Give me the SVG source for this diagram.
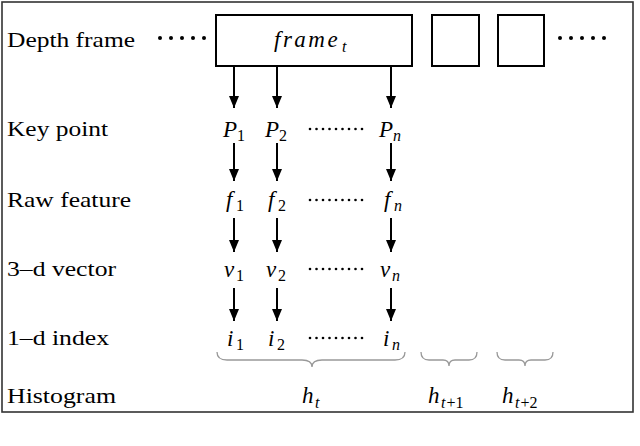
<svg xmlns="http://www.w3.org/2000/svg" width="640" height="446" viewBox="0 0 640 446">
<defs>
<marker id="ah" viewBox="0 0 12 10" refX="12" refY="5" markerWidth="12" markerHeight="10" markerUnits="userSpaceOnUse" orient="auto">
<path d="M0,0 L12,5 L0,10 Z" fill="#000"/>
</marker>
</defs>
<style>
text{font-family:"Liberation Serif","Times New Roman",serif;fill:#000}
.lbl{font-size:22px}
.m{font-size:23px;font-style:italic}
.s{font-size:16px;font-style:normal}
.si{font-size:16px;font-style:italic}
.box{fill:#fff;stroke:#000;stroke-width:2}
.arr{stroke:#000;stroke-width:2;fill:none}
.brace{stroke:#999;stroke-width:1.3;fill:none}
.bd{fill:#000}
.sd{fill:#000}
</style>
<rect x="0" y="0" width="640" height="446" fill="#fff"/>
<rect x="2" y="2" width="631" height="410" fill="none" stroke="#333" stroke-width="1.6"/>

<g id="labels">
<text class="lbl" x="7" y="47" textLength="128" lengthAdjust="spacingAndGlyphs">Depth frame</text>
<text class="lbl" x="7" y="136" textLength="101" lengthAdjust="spacingAndGlyphs">Key point</text>
<text class="lbl" x="7" y="207" textLength="124" lengthAdjust="spacingAndGlyphs">Raw feature</text>
<text class="lbl" x="7" y="276" textLength="109" lengthAdjust="spacingAndGlyphs">3–d vector</text>
<text class="lbl" x="7" y="345" textLength="102" lengthAdjust="spacingAndGlyphs">1–d index</text>
<text class="lbl" x="7" y="403" textLength="109" lengthAdjust="spacingAndGlyphs">Histogram</text>
</g>

<g id="frame_t">
<rect class="box" x="216" y="15" width="196" height="51"/>
<text class="m" x="274" y="47" font-size="24" letter-spacing="2.5">frame</text>
<text class="si" x="342" y="52">t</text>
</g>
<g id="frame_t1"><rect class="box" x="432" y="15" width="47" height="51"/></g>
<g id="frame_t2"><rect class="box" x="498" y="15" width="46" height="51"/></g>

<g id="dots_left">
<circle class="bd" cx="160" cy="38" r="2"/><circle class="bd" cx="171" cy="38" r="2"/><circle class="bd" cx="182" cy="38" r="2"/><circle class="bd" cx="193" cy="38" r="2"/><circle class="bd" cx="204" cy="38" r="2"/>
</g>
<g id="dots_right">
<circle class="bd" cx="560" cy="38" r="2"/><circle class="bd" cx="571" cy="38" r="2"/><circle class="bd" cx="582" cy="38" r="2"/><circle class="bd" cx="593" cy="38" r="2"/><circle class="bd" cx="604" cy="38" r="2"/>
</g>

<g id="keypoints">
<text class="m" x="223" y="137">P</text><text class="s" x="237" y="141">1</text>
<text class="m" x="265" y="137">P</text><text class="s" x="279" y="141">2</text>
<text class="m" x="379" y="137">P</text><text class="si" x="393" y="141">n</text>
</g>
<g id="features">
<text class="m" x="226" y="207">f</text><text class="s" x="236" y="211">1</text>
<text class="m" x="268" y="207">f</text><text class="s" x="278" y="211">2</text>
<text class="m" x="384" y="207">f</text><text class="si" x="394" y="211">n</text>
</g>
<g id="vectors">
<text class="m" x="224" y="277">v</text><text class="s" x="236" y="281">1</text>
<text class="m" x="266" y="277">v</text><text class="s" x="278" y="281">2</text>
<text class="m" x="380" y="277">v</text><text class="si" x="392" y="281">n</text>
</g>
<g id="indices">
<text class="m" x="227" y="346">i</text><text class="s" x="236" y="350">1</text>
<text class="m" x="268" y="346">i</text><text class="s" x="277" y="350">2</text>
<text class="m" x="383" y="346">i</text><text class="si" x="392" y="350">n</text>
</g>

<g id="row_dots">
<g transform="translate(0,129)"><circle class="sd" cx="310" cy="0" r="1.3"/><circle class="sd" cx="316.5" cy="0" r="1.3"/><circle class="sd" cx="323" cy="0" r="1.3"/><circle class="sd" cx="329.5" cy="0" r="1.3"/><circle class="sd" cx="336" cy="0" r="1.3"/><circle class="sd" cx="342.5" cy="0" r="1.3"/><circle class="sd" cx="349" cy="0" r="1.3"/><circle class="sd" cx="355.5" cy="0" r="1.3"/><circle class="sd" cx="362" cy="0" r="1.3"/></g>
<g transform="translate(0,200)"><circle class="sd" cx="310" cy="0" r="1.3"/><circle class="sd" cx="316.5" cy="0" r="1.3"/><circle class="sd" cx="323" cy="0" r="1.3"/><circle class="sd" cx="329.5" cy="0" r="1.3"/><circle class="sd" cx="336" cy="0" r="1.3"/><circle class="sd" cx="342.5" cy="0" r="1.3"/><circle class="sd" cx="349" cy="0" r="1.3"/><circle class="sd" cx="355.5" cy="0" r="1.3"/><circle class="sd" cx="362" cy="0" r="1.3"/></g>
<g transform="translate(0,269)"><circle class="sd" cx="310" cy="0" r="1.3"/><circle class="sd" cx="316.5" cy="0" r="1.3"/><circle class="sd" cx="323" cy="0" r="1.3"/><circle class="sd" cx="329.5" cy="0" r="1.3"/><circle class="sd" cx="336" cy="0" r="1.3"/><circle class="sd" cx="342.5" cy="0" r="1.3"/><circle class="sd" cx="349" cy="0" r="1.3"/><circle class="sd" cx="355.5" cy="0" r="1.3"/><circle class="sd" cx="362" cy="0" r="1.3"/></g>
<g transform="translate(0,338)"><circle class="sd" cx="310" cy="0" r="1.3"/><circle class="sd" cx="316.5" cy="0" r="1.3"/><circle class="sd" cx="323" cy="0" r="1.3"/><circle class="sd" cx="329.5" cy="0" r="1.3"/><circle class="sd" cx="336" cy="0" r="1.3"/><circle class="sd" cx="342.5" cy="0" r="1.3"/><circle class="sd" cx="349" cy="0" r="1.3"/><circle class="sd" cx="355.5" cy="0" r="1.3"/><circle class="sd" cx="362" cy="0" r="1.3"/></g>
</g>

<g id="connectors">
<line class="arr" x1="234" y1="66" x2="234" y2="108" marker-end="url(#ah)"/>
<line class="arr" x1="277" y1="66" x2="277" y2="108" marker-end="url(#ah)"/>
<line class="arr" x1="391" y1="66" x2="391" y2="108" marker-end="url(#ah)"/>
<line class="arr" x1="234" y1="143" x2="234" y2="181" marker-end="url(#ah)"/>
<line class="arr" x1="277" y1="143" x2="277" y2="181" marker-end="url(#ah)"/>
<line class="arr" x1="391" y1="143" x2="391" y2="181" marker-end="url(#ah)"/>
<line class="arr" x1="234" y1="218" x2="234" y2="252" marker-end="url(#ah)"/>
<line class="arr" x1="277" y1="218" x2="277" y2="252" marker-end="url(#ah)"/>
<line class="arr" x1="391" y1="218" x2="391" y2="252" marker-end="url(#ah)"/>
<line class="arr" x1="234" y1="288" x2="234" y2="321" marker-end="url(#ah)"/>
<line class="arr" x1="277" y1="288" x2="277" y2="321" marker-end="url(#ah)"/>
<line class="arr" x1="391" y1="288" x2="391" y2="321" marker-end="url(#ah)"/>
</g>

<g id="histograms">
<path class="brace" d="M217,352 Q217,360 227,360 L302,360 Q312,360 312,367 Q312,360 322,360 L395,360 Q405,360 405,352"/>
<path class="brace" d="M421,352 Q421,360 429,360 L443,360 Q449,360 449,366 Q449,360 455,360 L469,360 Q477,360 477,352"/>
<path class="brace" d="M497,352 Q497,360 505,360 L519,360 Q525,360 525,366 Q525,360 531,360 L545,360 Q553,360 553,352"/>
<text class="m" x="302" y="403">h</text><text class="si" x="315" y="408">t</text>
<text class="m" x="428" y="403">h</text><text class="si" x="441" y="408" font-size="17">t<tspan class="s" font-size="17" dx="1">+1</tspan></text>
<text class="m" x="502" y="403">h</text><text class="si" x="515" y="408" font-size="17">t<tspan class="s" font-size="17" dx="1">+2</tspan></text>
</g>
</svg>
